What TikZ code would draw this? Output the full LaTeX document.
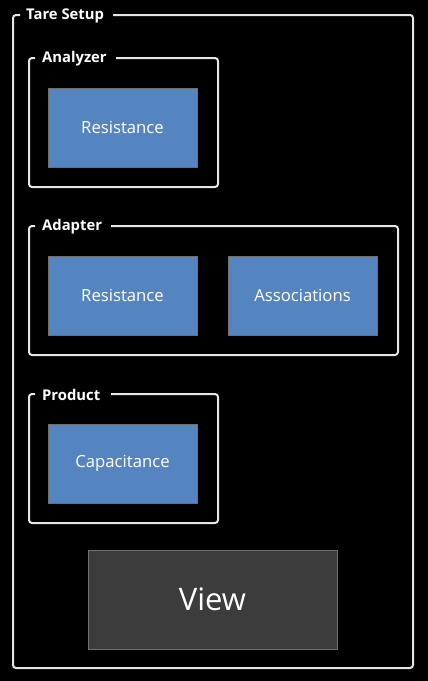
\documentclass[tikz,border=0pt]{standalone}
\usepackage{fontspec}
\setmainfont{Open Sans}
\definecolor{btnblue}{HTML}{5585C0}
\definecolor{btnedge}{HTML}{707070}
\definecolor{viewfill}{HTML}{3C3C3C}
\definecolor{frame}{HTML}{E6E6E6}
\tikzset{
  grp/.style={draw=frame, line width=2pt, rounded corners=3pt},
  gtitle/.style={text=white, font=\bfseries\fontsize{14.8}{17}\selectfont, anchor=west, inner sep=0pt},
  btn/.style={draw=btnedge, fill=btnblue, line width=1pt, minimum width=149pt, minimum height=79pt, text=white, font=\fontsize{16.7}{19}\selectfont, inner sep=0pt},
  viewbtn/.style={draw=btnedge, fill=viewfill, line width=1pt, minimum width=249pt, minimum height=99pt, text=white, font=\fontsize{31}{36}\selectfont, inner sep=0pt}
}
\begin{document}
\begin{tikzpicture}[x=1pt,y=-1pt]
\fill[black] (0,0) rectangle (428,681);
\useasboundingbox (0,0) rectangle (428,681);
% outer group
\node[gtitle] (tTare) at (26,16) {Tare Setup};
\draw[grp] (113,15) -- (413,15) -- (413,668) -- (13,668) -- (13,15) -- (20,15);
% Analyzer
\node[gtitle] (tAna) at (42,59) {Analyzer};
\draw[grp] (116,58) -- (218,58) -- (218,187) -- (29,187) -- (29,58) -- (35,58);
\node[btn] (r1) at (122.5,127.5) {Resistance};
% Adapter
\node[gtitle] (tAda) at (42,227) {Adapter};
\draw[grp] (111,226) -- (398,226) -- (398,355) -- (29,355) -- (29,226) -- (35,226);
\node[btn] (r2) at (122.5,295.5) {Resistance};
\node[btn] (as) at (302.5,295.5) {Associations};
% Product
\node[gtitle] (tPro) at (42,395) {Product};
\draw[grp] (111,394) -- (218,394) -- (218,523) -- (29,523) -- (29,394) -- (35,394);
\node[btn] (cap) at (122.5,463.5) {Capacitance};
% View
\node[viewbtn] (view) at (212.5,599.5) {View};
\end{tikzpicture}
\end{document}
